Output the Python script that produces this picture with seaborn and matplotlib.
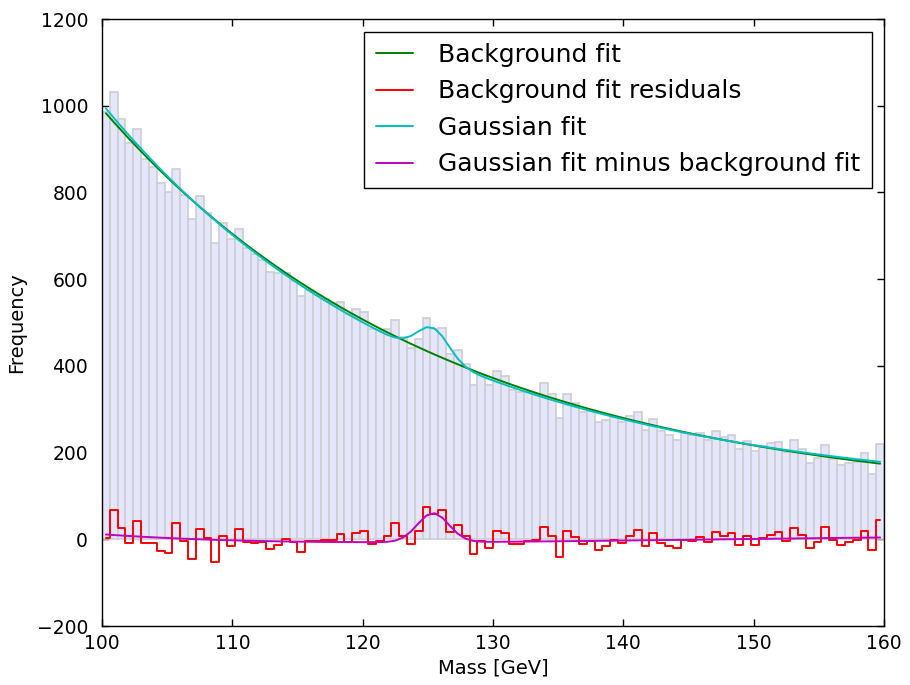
import numpy as np
import pandas as pd
import matplotlib
matplotlib.use("Agg")
import matplotlib.pyplot as plt
import seaborn as sns

# ---- data ----
mass_min, mass_max, n_bins = 100.0, 160.0, 100

counts = [
    985, 1031, 969, 915, 947, 877, 858, 822, 800, 853,
    795, 738, 791, 753, 684, 729, 692, 716, 672, 657,
    645, 617, 614, 615, 596, 562, 575, 564, 554, 544,
    547, 520, 530, 524, 486, 483, 485, 506, 466, 441,
    462, 510, 484, 487, 428, 437, 404, 355, 378, 356,
    388, 377, 345, 339, 340, 335, 361, 334, 279, 334,
    314, 293, 296, 270, 275, 283, 271, 284, 293, 252,
    277, 250, 240, 230, 245, 240, 246, 230, 250, 237,
    240, 209, 227, 204, 215, 221, 224, 201, 228, 209,
    177, 188, 218, 186, 172, 177, 179, 199, 151, 220,
]

# background fit: A*exp(-k*(m-100)) + C
bkg_A, bkg_k, bkg_C = 913.0, 0.0380, 80.0
# gaussian fit: A2*exp(-k2*(m-100)) + C2 + G*exp(-(m-mu)^2/(2 s^2))
gau_A, gau_k, gau_C = 906.0, 0.04067, 98.7
gau_G, gau_mu, gau_sigma = 67.0, 125.4, 1.2

legend_labels = ["Background fit", "Background fit residuals",
                 "Gaussian fit", "Gaussian fit minus background fit"]
x_ticks = [100, 110, 120, 130, 140, 150, 160]
y_ticks = [-200, 0, 200, 400, 600, 800, 1000, 1200]

# ---- derived ----
edges = np.linspace(mass_min, mass_max, n_bins + 1)
centers = 0.5 * (edges[:-1] + edges[1:])
counts = np.asarray(counts, dtype=float)
t = centers - 100.0
bkg = bkg_A * np.exp(-bkg_k * t) + bkg_C
gfit = gau_A * np.exp(-gau_k * t) + gau_C + gau_G * np.exp(-(centers - gau_mu) ** 2 / (2 * gau_sigma ** 2))
resid = counts - bkg
diff = gfit - bkg

df = pd.DataFrame({"mass": centers, "count": counts, "bkg": bkg,
                   "gfit": gfit, "resid": resid, "diff": diff})

sns.set_style("ticks")
plt.rcParams.update({
    "font.family": ["DejaVu Sans"],
    "text.color": "black", "axes.labelcolor": "black",
    "xtick.color": "black", "ytick.color": "black",
    "xtick.direction": "in", "ytick.direction": "in",
    "xtick.top": True, "ytick.right": True,
    "axes.edgecolor": "black", "axes.linewidth": 1.0,
})

fig = plt.figure(figsize=(9.1, 6.85), dpi=100)
ax = fig.add_axes([102 / 910, 1 - 626 / 685, (884 - 102) / 910, (626 - 19) / 685])

sns.histplot(data=df, x="mass", weights="count", bins=n_bins,
             binrange=(mass_min, mass_max), ax=ax,
             color="#e6e6fa", edgecolor="#cdcdd6", linewidth=1.2, alpha=1.0,
             zorder=1)

lw = 1.4
sns.lineplot(data=df, x="mass", y="bkg", color="green", lw=lw, ax=ax,
             label=legend_labels[0], zorder=3)
sns.lineplot(data=df, x="mass", y="resid", color="red", lw=lw, ax=ax,
             drawstyle="steps-mid", label=legend_labels[1], zorder=3)
sns.lineplot(data=df, x="mass", y="gfit", color="#00bfbf", lw=lw, ax=ax,
             label=legend_labels[2], zorder=4)
sns.lineplot(data=df, x="mass", y="diff", color="#bf00bf", lw=lw, ax=ax,
             label=legend_labels[3], zorder=4)

ax.set_xlim(mass_min, mass_max)
ax.set_ylim(-200, 1200)
ax.set_xticks(x_ticks)
ax.set_yticks(y_ticks)
ax.tick_params(axis="both", which="major", labelsize=13.5, length=5, width=1,
               color="black", labelcolor="black")
ax.tick_params(axis="x", pad=6)
ax.tick_params(axis="y", pad=10)
ax.set_xlabel("Mass [GeV]", fontsize=14, color="black")
ax.set_ylabel("Frequency", fontsize=14, color="black", labelpad=8)
for s in ax.spines.values():
    s.set_visible(True)
    s.set_color("black")

leg = ax.legend(loc="upper right", fontsize=18, frameon=True, fancybox=False,
                handlelength=1.5, handletextpad=1.0, labelspacing=0.5,
                borderaxespad=0.5, borderpad=0.45)
leg.get_frame().set_edgecolor("black")
leg.get_frame().set_linewidth(1.0)
leg.get_frame().set_alpha(1.0)
for h in leg.get_lines():
    h.set_linewidth(1.4)
for txt in leg.get_texts():
    txt.set_color("black")

fig.savefig("out.png", dpi=100)
